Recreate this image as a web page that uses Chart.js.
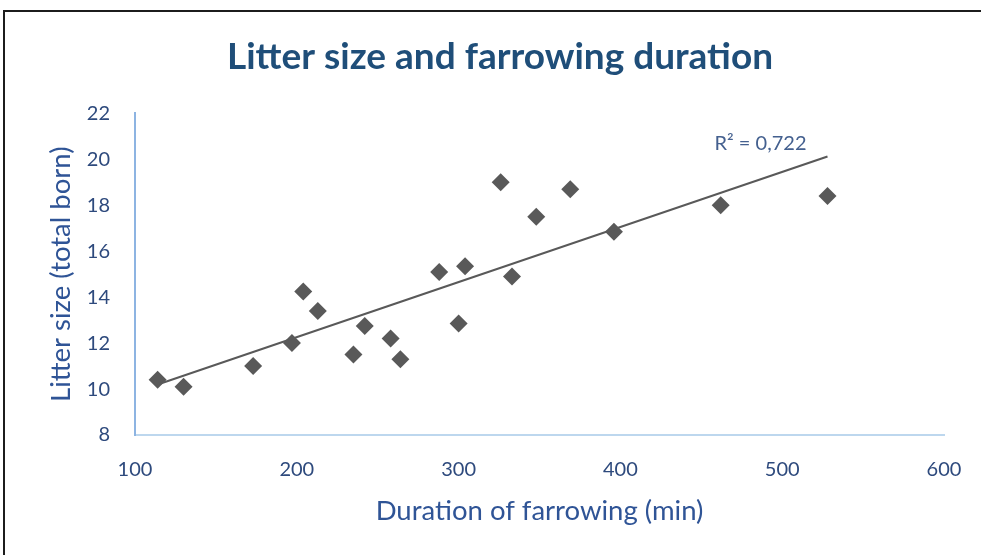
<!DOCTYPE html>
<html>
<head>
<meta charset="utf-8">
<script src="https://cdn.jsdelivr.net/npm/chart.js@4/dist/chart.umd.min.js"></script>
<style>
  html, body { margin: 0; padding: 0; background: #fff; overflow: hidden; }
  #wrap { position: relative; width: 981px; height: 555px; }
  #frame { position: absolute; left: 3px; top: 10px; width: 1100px; height: 700px;
           border: 2px solid #1c1c1c; pointer-events: none; }
  canvas { position: absolute; left: 0; top: 0; }
</style>
</head>
<body>
<div id="wrap">
  <canvas id="c" width="981" height="555"></canvas>
  <div id="frame"></div>
</div>
<script>
// ---- data ----
const chartTitle = 'Litter size and farrowing duration';
const xAxisTitle = 'Duration of farrowing (min)';
const yAxisTitle = 'Litter size (total born)';
const r2Label = 'R² = 0,722';

const farrowingMinutes = [114, 130, 173, 197, 204, 213, 235, 242, 258, 264, 288, 300, 304, 326, 333, 348, 369, 396, 462, 528];
const litterSize       = [10.4, 10.1, 11.0, 12.0, 14.25, 13.4, 11.5, 12.75, 12.2, 11.3, 15.1, 12.85, 15.35, 19.0, 14.9, 17.5, 18.7, 16.85, 18.0, 18.4];

const xTicks = [100, 200, 300, 400, 500, 600];
const yTicks = [8, 10, 12, 14, 16, 18, 20, 22];

// ---- linear trendline (least squares, as the spreadsheet computes it) ----
const n = farrowingMinutes.length;
const mx = farrowingMinutes.reduce((a, b) => a + b, 0) / n;
const my = litterSize.reduce((a, b) => a + b, 0) / n;
let sxy = 0, sxx = 0;
for (let i = 0; i < n; i++) {
  sxy += (farrowingMinutes[i] - mx) * (litterSize[i] - my);
  sxx += (farrowingMinutes[i] - mx) ** 2;
}
const slope = sxy / sxx;
const intercept = my - slope * mx;
const xMin = Math.min(...farrowingMinutes);
const xMax = Math.max(...farrowingMinutes);
const trendPoints = [xMin, xMax].map(x => ({ x, y: intercept + slope * x }));

const scatterPoints = farrowingMinutes.map((x, i) => ({ x, y: litterSize[i] }));

const FONT = 'Lato, "Open Sans", sans-serif';

const r2Plugin = {
  id: 'r2Label',
  afterDatasetsDraw(chart) {
    const { ctx, scales } = chart;
    const end = trendPoints[trendPoints.length - 1];
    const px = scales.x.getPixelForValue(end.x);
    const py = scales.y.getPixelForValue(end.y);
    ctx.save();
    ctx.font = '20px ' + FONT;
    ctx.fillStyle = '#44608f';
    ctx.textAlign = 'right';
    ctx.textBaseline = 'middle';
    ctx.fillText(r2Label, px - 21, py - 13);
    ctx.restore();
  }
};

new Chart(document.getElementById('c'), {
  type: 'scatter',
  data: {
    datasets: [
      {
        label: 'Litter size',
        data: scatterPoints,
        pointStyle: 'rectRot',
        pointRadius: 9,
        pointHoverRadius: 9,
        backgroundColor: '#595959',
        borderColor: '#595959',
        borderWidth: 0,
        order: 2
      },
      {
        type: 'line',
        label: 'Trend',
        data: trendPoints,
        borderColor: '#595959',
        borderWidth: 2,
        pointRadius: 0,
        fill: false,
        order: 1
      }
    ]
  },
  options: {
    responsive: false,
    animation: false,
    events: [],
    layout: { padding: { left: 19, right: 0, top: 0, bottom: 0 } },
    plugins: {
      legend: { display: false },
      tooltip: { enabled: false },
      title: {
        display: true,
        text: chartTitle,
        color: '#1f4e79',
        font: { family: FONT, size: 37, weight: 'bold', lineHeight: 1.2 },
        padding: { top: 35, bottom: 34 }
      }
    },
    scales: {
      x: {
        type: 'linear',
        min: 100, max: 600,
        afterBuildTicks: s => { s.ticks = xTicks.map(v => ({ value: v })); },
        afterFit: s => { s.height = 120; s.paddingRight = 37; },
        grid: { display: false, drawTicks: false },
        border: { display: true, color: '#bdd7ee', width: 2 },
        ticks: { color: '#2e4a7d', font: { family: FONT, size: 20 }, padding: 23, maxRotation: 0 },
        title: {
          display: true, text: xAxisTitle, color: '#2f5496',
          font: { family: FONT, size: 27.5, lineHeight: 1.2 },
          padding: { top: 0, bottom: 27 }
        }
      },
      y: {
        type: 'linear',
        min: 8, max: 22,
        afterBuildTicks: s => { s.ticks = yTicks.map(v => ({ value: v })); },
        afterFit: s => { s.width = 116; },
        grid: { display: false, drawTicks: false },
        border: { display: true, color: '#8db4e2', width: 2 },
        ticks: { color: '#2e4a7d', font: { family: FONT, size: 20 }, padding: 25 },
        title: {
          display: true, text: yAxisTitle, color: '#2f5496',
          font: { family: FONT, size: 27.5, lineHeight: 1.2 },
          padding: { top: 26, bottom: 0 }
        }
      }
    }
  },
  plugins: [r2Plugin]
});
</script>
</body>
</html>
